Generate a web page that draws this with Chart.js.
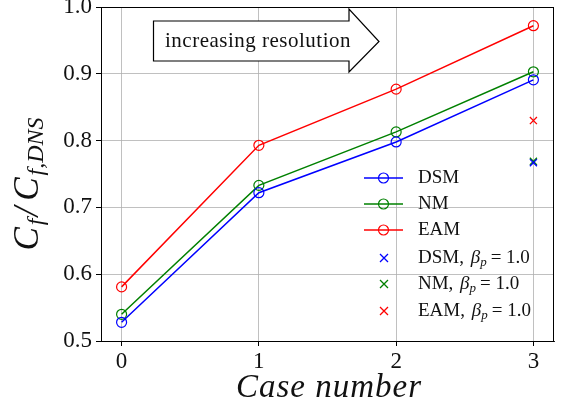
<!DOCTYPE html>
<html><head><meta charset="utf-8">
<script src="https://cdn.jsdelivr.net/npm/chart.js@4.4.0/dist/chart.umd.min.js"></script>
<style>html,body{margin:0;padding:0;background:#fff;}#wrap{width:563px;height:410px;}</style>
</head><body><div id="wrap"><canvas id="c" width="563" height="410"></canvas></div>
<script>
const cases = [0, 1, 2, 3];
const dsm = [0.528, 0.722, 0.798, 0.891];
const nm  = [0.540, 0.733, 0.813, 0.903];
const eam = [0.581, 0.793, 0.877, 0.972];
const betaCase = [3];
const dsmBeta = [0.767];
const nmBeta  = [0.769];
const eamBeta = [0.830];
const yTicks = [0.5, 0.6, 0.7, 0.8, 0.9, 1.0];
const xTicks = [0, 1, 2, 3];
const legendLabels = ['DSM', 'NM', 'EAM', 'DSM, ', 'NM, ', 'EAM, '];
const annotationText = 'increasing resolution';

const SERIF = '"Liberation Serif", "DejaVu Serif", serif';
const pts = (xs, ys) => xs.map((x, i) => ({x, y: ys[i]}));

function lineDs(label, data, color) {
  return {label, data: pts(cases, data), showLine: true, borderColor: color, backgroundColor: 'rgba(0,0,0,0)',
    borderWidth: 1.5, pointStyle: 'circle', pointRadius: 5, pointBorderWidth: 1.2, pointBorderColor: color, tension: 0};
}
function crossDs(label, data, color) {
  return {label, data: pts(betaCase, data), showLine: false, borderColor: color, backgroundColor: color,
    pointStyle: 'crossRot', pointRadius: 5, pointBorderWidth: 1.3, pointBorderColor: color};
}

const overlay = {
  id: 'overlay',
  afterDraw(chart) {
    const ctx = chart.ctx;
    const a = chart.chartArea;
    ctx.save();
    // frame
    ctx.strokeStyle = '#000'; ctx.lineWidth = 1;
    ctx.strokeRect(a.left + 0.5, a.top + 0.5, a.right - a.left - 1, a.bottom - a.top);
    // arrow annotation
    ctx.beginPath();
    ctx.moveTo(153.5, 21); ctx.lineTo(349, 21); ctx.lineTo(349, 9); ctx.lineTo(379, 41.5);
    ctx.lineTo(349, 72); ctx.lineTo(349, 61); ctx.lineTo(153.5, 61); ctx.closePath();
    ctx.fillStyle = '#fff'; ctx.fill();
    ctx.lineWidth = 1.2; ctx.strokeStyle = '#000'; ctx.stroke();
    ctx.fillStyle = '#111'; ctx.font = '21px ' + SERIF; ctx.textBaseline = 'middle'; ctx.textAlign = 'center';
    ctx.letterSpacing = '0.5px';
    ctx.fillText(annotationText, 258, 41);
    ctx.letterSpacing = '0px';
    // legend
    const colors = ['#0000ff', '#008000', '#ff0000', '#0000ff', '#008000', '#ff0000'];
    const ys = [178, 204, 230, 258, 284, 311];
    ctx.textAlign = 'left'; ctx.textBaseline = 'middle';
    for (let i = 0; i < 6; i++) {
      const y = ys[i], c = colors[i];
      ctx.strokeStyle = c;
      if (i < 3) {
        ctx.lineWidth = 1.5;
        ctx.beginPath(); ctx.moveTo(364, y); ctx.lineTo(403, y); ctx.stroke();
        ctx.lineWidth = 1.2;
        ctx.beginPath(); ctx.arc(383.5, y, 5, 0, Math.PI * 2); ctx.stroke();
      } else {
        ctx.lineWidth = 1.3;
        ctx.beginPath(); ctx.moveTo(380, y - 4); ctx.lineTo(388, y + 4); ctx.moveTo(388, y - 4); ctx.lineTo(380, y + 4); ctx.stroke();
      }
      ctx.fillStyle = '#111';
      ctx.font = '19px ' + SERIF;
      let x = 418;
      ctx.fillText(legendLabels[i], x, y);
      x += ctx.measureText(legendLabels[i]).width;
      if (i >= 3) {
        ctx.font = 'italic 19px ' + SERIF;
        ctx.fillText('β', x + 2, y); x += 2 + ctx.measureText('β').width;
        ctx.font = 'italic 13px ' + SERIF;
        ctx.fillText('p', x, y + 5); x += ctx.measureText('p').width;
        ctx.font = '19px ' + SERIF;
        ctx.fillText('= 1.0', x + 4, y);
      }
    }
    // y title
    ctx.translate(29, 183); ctx.rotate(-Math.PI / 2);
    const parts = [['C', 35, 0], ['f', 24, 8], ['/', 35, 0], ['C', 35, 0], ['f,DNS', 24, 8]];
    const gap = p => (p[0] === '/' ? 6 : 2);
    let total = 0;
    parts.forEach(p => { ctx.font = 'italic ' + p[1] + 'px ' + SERIF; total += ctx.measureText(p[0]).width + gap(p); });
    let x = -total / 2;
    parts.forEach(p => {
      ctx.font = 'italic ' + p[1] + 'px ' + SERIF;
      ctx.fillText(p[0], x, p[2]);
      x += ctx.measureText(p[0]).width + gap(p);
    });
    ctx.restore();
    ctx.save();
    ctx.fillStyle = '#111'; ctx.font = 'italic 33px ' + SERIF; ctx.textAlign = 'center'; ctx.textBaseline = 'middle';
    ctx.letterSpacing = '1px';
    ctx.fillText('Case number', 329, 388);
    ctx.restore();
  }
};

new Chart(document.getElementById('c'), {
  type: 'scatter',
  data: {datasets: [
    lineDs('DSM', dsm, '#0000ff'), lineDs('NM', nm, '#008000'), lineDs('EAM', eam, '#ff0000'),
    crossDs('DSM b', dsmBeta, '#0000ff'), crossDs('NM b', nmBeta, '#008000'), crossDs('EAM b', eamBeta, '#ff0000')
  ]},
  options: {
    responsive: false, animation: false, devicePixelRatio: 1,
    layout: {autoPadding: false, padding: {top: 7, right: 9, left: 0, bottom: 0}},
    plugins: {legend: {display: false}, tooltip: {enabled: false}},
    scales: {
      x: {type: 'linear', min: -0.15, max: 3.15,
        afterBuildTicks: s => { s.ticks = xTicks.map(v => ({value: v})); },
        afterFit: s => { s.height = 69; s.paddingLeft = 0; s.paddingRight = 0; },
        ticks: {color: '#111', font: {family: SERIF, size: 23}, padding: 2, callback: v => String(v)},
        grid: {color: '#b0b0b0', lineWidth: 0.8, tickColor: '#000', tickLength: 5, tickWidth: 1},
        border: {display: true, color: '#000', width: 1}},
      y: {min: 0.5, max: 1.0,
        afterBuildTicks: s => { s.ticks = yTicks.map(v => ({value: v})); },
        afterFit: s => { s.width = 101; s.paddingTop = 0; s.paddingBottom = 0; },
        ticks: {color: '#111', font: {family: SERIF, size: 23}, padding: 4, callback: v => Number(v).toFixed(1)},
        grid: {color: '#b0b0b0', lineWidth: 0.8, tickColor: '#000', tickLength: 5, tickWidth: 1},
        border: {display: true, color: '#000', width: 1}}
    }
  },
  plugins: [overlay]
});
</script></body></html>
